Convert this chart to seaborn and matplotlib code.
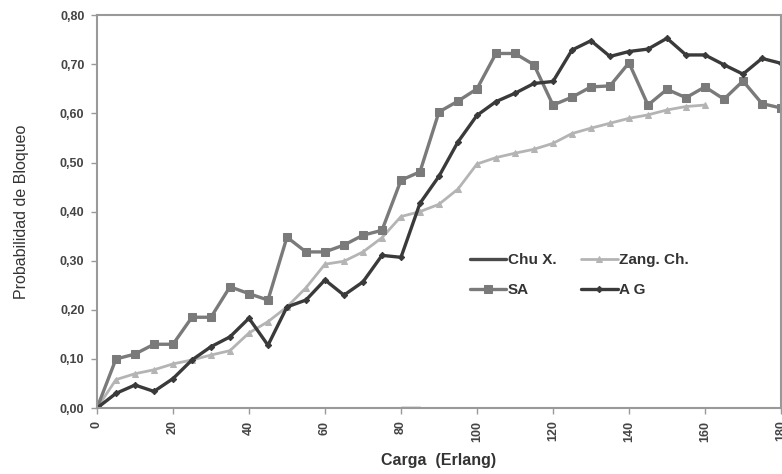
import numpy as np
import pandas as pd
import matplotlib
matplotlib.use("Agg")
import matplotlib.pyplot as plt
import seaborn as sns

# ---- data ----
carga = [0, 5, 10, 15, 20, 25, 30, 35, 40, 45, 50, 55, 60, 65, 70, 75, 80, 85, 90,
         95, 100, 105, 110, 115, 120, 125, 130, 135, 140, 145, 150, 155, 160, 165,
         170, 175, 180]
sa = [0.00, 0.10, 0.11, 0.13, 0.13, 0.185, 0.185, 0.247, 0.233, 0.22, 0.348, 0.318,
      0.318, 0.332, 0.352, 0.362, 0.464, 0.481, 0.603, 0.625, 0.65, 0.722, 0.722,
      0.699, 0.617, 0.633, 0.654, 0.656, 0.703, 0.617, 0.649, 0.632, 0.654, 0.629,
      0.666, 0.62, 0.611]
ag = [0.00, 0.030, 0.047, 0.034, 0.060, 0.098, 0.125, 0.145, 0.183, 0.128, 0.206,
      0.22, 0.261, 0.23, 0.257, 0.311, 0.307, 0.417, 0.472, 0.542, 0.596, 0.624,
      0.641, 0.661, 0.665, 0.729, 0.748, 0.716, 0.726, 0.731, 0.753, 0.719, 0.719,
      0.699, 0.68, 0.712, 0.702]
carga_zang = carga[:33]
zang = [0.00, 0.058, 0.07, 0.078, 0.09, 0.098, 0.108, 0.117, 0.153, 0.176, 0.206,
        0.245, 0.293, 0.299, 0.318, 0.347, 0.39, 0.40, 0.415, 0.446, 0.497, 0.51,
        0.519, 0.527, 0.539, 0.559, 0.57, 0.58, 0.59, 0.597, 0.607, 0.614, 0.617]
carga_chu = [80, 85]
chu = [0.00, 0.00]

yticks = [0.0, 0.1, 0.2, 0.3, 0.4, 0.5, 0.6, 0.7, 0.8]
ytick_labels = ["0,00", "0,10", "0,20", "0,30", "0,40", "0,50", "0,60", "0,70", "0,80"]
xticks = [0, 20, 40, 60, 80, 100, 120, 140, 160, 180]

sns.set_style("white")
plt.rcParams['font.family'] = ['Liberation Sans', 'DejaVu Sans']

fig = plt.figure(figsize=(7.82, 4.74), dpi=100)
ax = fig.add_axes([0.124, 0.139, 0.8747, 0.829])

df_sa = pd.DataFrame({"x": carga, "y": sa})
df_ag = pd.DataFrame({"x": carga, "y": ag})
df_zang = pd.DataFrame({"x": carga_zang, "y": zang})
df_chu = pd.DataFrame({"x": carga_chu, "y": chu})

sns.lineplot(data=df_zang, x="x", y="y", ax=ax, color="#b4b4b4", lw=2.0,
             marker="^", markersize=4.5, markeredgecolor="#b4b4b4", label="Zang. Ch.")
sns.lineplot(data=df_sa, x="x", y="y", ax=ax, color="#7a7a7a", lw=2.4,
             marker="s", markersize=5.5, markeredgecolor="#7a7a7a", label="SA")
sns.lineplot(data=df_ag, x="x", y="y", ax=ax, color="#3a3a3a", lw=2.4,
             marker="D", markersize=3.2, markeredgecolor="#3a3a3a", label="A G")
sns.lineplot(data=df_chu, x="x", y="y", ax=ax, color="#4a4a4a", lw=2.4,
             label="Chu X.")

ax.set_xlim(0, 180)
ax.set_ylim(0, 0.8)
ax.set_yticks(yticks)
ax.set_yticklabels(ytick_labels, fontsize=9, fontweight="bold", color="#444444")
ax.set_xticks(xticks)
ax.set_xticklabels([str(t) for t in xticks], fontsize=9, fontweight="bold",
                   rotation=90, color="#444444")
ax.tick_params(axis="both", which="major", length=4, width=1, color="#999999",
               direction="out", bottom=True, left=True, pad=5)

for s in ax.spines.values():
    s.set_color("#999999")
    s.set_linewidth(1.5)

ax.set_ylabel("Probabilidad de Bloqueo", fontsize=11.5, color="#333333", labelpad=22)
ax.set_xlabel("Carga  (Erlang)", fontsize=11.5, fontweight="bold", color="#333333",
              labelpad=8)

handles, labels = ax.get_legend_handles_labels()
order = {l: h for h, l in zip(handles, labels)}
leg_labels = ["Chu X.", "SA", "Zang. Ch.", "A G"]
ax.legend([order[l] for l in leg_labels], leg_labels, ncol=2, frameon=False,
          loc="upper left", bbox_to_anchor=(0.525, 0.43),
          prop={"weight": "bold", "size": 11}, handlelength=2.4,
          columnspacing=1.6, handletextpad=0.1, labelspacing=1.05,
          labelcolor="#333333")

fig.savefig("out.png", dpi=100)
